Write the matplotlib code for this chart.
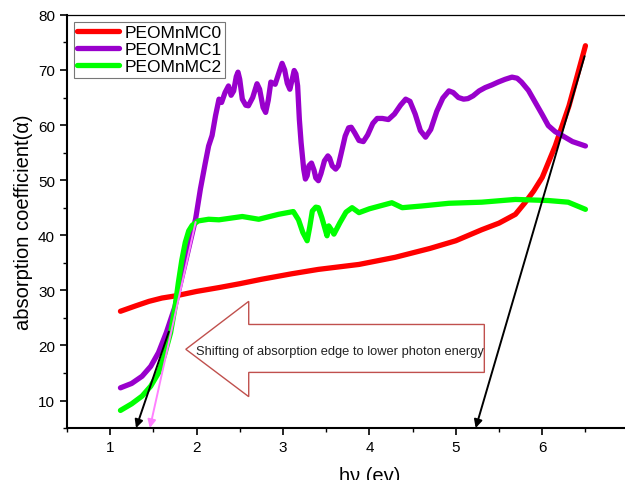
import numpy as np
import matplotlib
matplotlib.use("Agg")
import matplotlib.pyplot as plt
from matplotlib.patches import Polygon
from matplotlib.ticker import MultipleLocator

plt.rcParams['font.family'] = ['Liberation Sans', 'DejaVu Sans']

# ----------------------------------------------------------------
# data

labels = ["PEOMnMC0", "PEOMnMC1", "PEOMnMC2"]
colors = ["#ff0000", "#9900cc", "#00ff00"]

red_x = [1.12, 1.3, 1.45, 1.6, 1.76, 2.0, 2.26, 2.5, 2.75, 3.1, 3.41, 3.88, 4.3,
         4.7, 5.0, 5.3, 5.5, 5.69, 5.80, 5.9, 6.0, 6.15, 6.31, 6.5]
red_y = [26.2, 27.2, 28.0, 28.6, 29.0, 29.8, 30.5, 31.2, 32.0, 33.0, 33.8, 34.7, 36.0,
         37.6, 39.0, 41.0, 42.2, 43.8, 45.9, 48.0, 50.5, 56.2, 63.5, 74.4]

purple_x = [1.12, 1.25, 1.37, 1.47, 1.56, 1.65, 1.75, 1.9, 1.99, 2.045, 2.1, 2.14,
            2.18, 2.22, 2.26, 2.29, 2.33, 2.37, 2.40, 2.43, 2.46, 2.48, 2.50, 2.53,
            2.57, 2.60, 2.65, 2.70, 2.73, 2.77, 2.80, 2.83, 2.86, 2.91, 2.96, 2.99,
            3.02, 3.05, 3.08, 3.11, 3.13, 3.15, 3.17, 3.19, 3.21, 3.24, 3.26, 3.28,
            3.30, 3.33, 3.36, 3.38, 3.41, 3.44, 3.48, 3.52, 3.54, 3.57, 3.61, 3.64,
            3.67, 3.72, 3.76, 3.79, 3.83, 3.88, 3.93, 3.98, 4.04, 4.09, 4.15, 4.22,
            4.29, 4.36, 4.42, 4.47, 4.53, 4.59, 4.65, 4.71, 4.78, 4.85, 4.92, 4.97,
            5.03, 5.09, 5.14, 5.2, 5.27, 5.34, 5.42, 5.49, 5.57, 5.65, 5.71, 5.76,
            5.84, 5.92, 6.0, 6.07, 6.15, 6.23, 6.35, 6.5]
purple_y = [12.3, 13.1, 14.4, 16.2, 18.7, 22.3, 27.0, 37.0, 43.0, 48.4, 53.0, 56.2,
            58.1, 61.7, 64.7, 64.1, 65.9, 67.1, 65.4, 66.2, 68.8, 69.6, 68.3, 64.7,
            63.6, 63.5, 65.0, 67.5, 66.5, 63.2, 62.3, 64.5, 67.8, 67.4, 69.8, 71.2,
            70.0, 67.6, 66.5, 68.5, 69.9, 69.3, 67.1, 61.0, 56.8, 52.0, 50.2, 50.8,
            52.6, 53.1, 51.8, 50.4, 49.9, 51.2, 53.5, 54.4, 54.0, 52.6, 52.0, 52.6,
            54.6, 58.0, 59.5, 59.6, 58.6, 57.2, 57.0, 58.2, 60.3, 61.2, 61.2, 61.0,
            62.0, 63.6, 64.7, 64.3, 62.0, 59.0, 57.8, 59.2, 62.5, 64.9, 66.2, 65.9,
            65.0, 64.7, 64.8, 65.3, 66.2, 66.8, 67.3, 67.8, 68.3, 68.7, 68.5, 67.8,
            66.3, 64.1, 61.9, 59.9, 58.8, 58.1, 57.0, 56.2]

green_x = [1.12, 1.25, 1.37, 1.47, 1.56, 1.63, 1.70, 1.75, 1.79, 1.83, 1.87, 1.91,
           1.95, 2.02, 2.14, 2.26, 2.53, 2.72, 2.95, 3.12, 3.18, 3.23, 3.28, 3.31,
           3.34, 3.38, 3.41, 3.45, 3.51, 3.53, 3.56, 3.59, 3.66, 3.73, 3.80, 3.88,
           4.0, 4.26, 4.38, 4.6, 4.92, 5.3, 5.69, 6.07, 6.3, 6.5]
green_y = [8.2, 9.4, 10.8, 12.6, 15.0, 18.3, 22.3, 26.8, 31.4, 35.5, 38.7, 40.8,
           41.8, 42.6, 42.9, 42.8, 43.4, 42.9, 43.8, 44.3, 42.8, 40.5, 39.0, 41.5,
           44.4, 45.1, 45.0, 43.2, 39.9, 41.7, 41.0, 40.2, 42.3, 44.2, 45.0, 44.1,
           44.8, 45.9, 45.0, 45.3, 45.8, 46.0, 46.5, 46.3, 46.0, 44.7]

# tangent lines (start -> tip on x axis)
tangents = [((1.68, 22.5), (1.30, 5.0), "black"),
            ((1.99, 42.4), (1.46, 5.0), "#ff80ff"),
            ((6.49, 72.5), (5.23, 5.0), "black")]

# hollow block arrow: tip, head x, head top/bottom, shaft top/bottom, shaft end
arr_tip = (1.876, 19.3)
arr_head_x = 2.604
arr_head_top, arr_head_bot = 28.0, 10.7
arr_shaft_top, arr_shaft_bot = 23.8, 15.1
arr_end_x = 5.33
arr_text = "Shifting of absorption edge to lower photon energy"

# ----------------------------------------------------------------

fig = plt.figure(figsize=(6.25, 4.81), dpi=100)
ax = fig.add_axes([0.107, 0.108, 0.968, 0.859])

series = [(red_x, red_y), (purple_x, purple_y), (green_x, green_y)]
for (xs, ys), lab, col in zip(series, labels, colors):
        ax.plot(xs, ys, color=col, lw=3.8, label=lab,
                solid_capstyle='round', solid_joinstyle='round')

for start, tip, col in tangents:
        ax.annotate("", xy=tip, xytext=start,
                    arrowprops=dict(arrowstyle='-|>', color=col, lw=1.4,
                                    mutation_scale=12, shrinkA=0, shrinkB=0))

pts = [arr_tip,
       (arr_head_x, arr_head_top),
       (arr_head_x, arr_shaft_top),
       (arr_end_x, arr_shaft_top),
       (arr_end_x, arr_shaft_bot),
       (arr_head_x, arr_shaft_bot),
       (arr_head_x, arr_head_bot)]
ax.add_patch(Polygon(pts, closed=True, facecolor='none', edgecolor='#c0504d', lw=1.0))
ax.text(1.99, 18.9, arr_text, fontsize=9.3, va='center', ha='left', color='#222222')

ax.set_xlim(0.5, 7.5)
ax.set_ylim(5, 80)
ax.xaxis.set_major_locator(MultipleLocator(1))
ax.xaxis.set_minor_locator(MultipleLocator(0.5))
ax.yaxis.set_minor_locator(MultipleLocator(5))
ax.set_yticks([10, 20, 30, 40, 50, 60, 70, 80])
ax.tick_params(which='major', direction='out', length=5, width=1.2, labelsize=11)
ax.tick_params(which='minor', direction='out', length=3, width=1.0)
ax.tick_params(top=False, right=False)
for s in ['left', 'bottom']:
        ax.spines[s].set_linewidth(1.5)
ax.spines['top'].set_linewidth(0.9)

ax.set_xlabel("hν (ev)", fontsize=14.5, labelpad=9)
ax.set_ylabel("absorption coefficient(α)", fontsize=14.5, labelpad=4)

leg = ax.legend(loc='upper left', fontsize=12.5, frameon=True, fancybox=False,
                edgecolor='#555555', handlelength=2.4, handletextpad=0.3,
                labelspacing=0.1, borderpad=0.2, borderaxespad=0.4)
leg.get_frame().set_linewidth(0.8)

fig.savefig("out.png", dpi=100)
